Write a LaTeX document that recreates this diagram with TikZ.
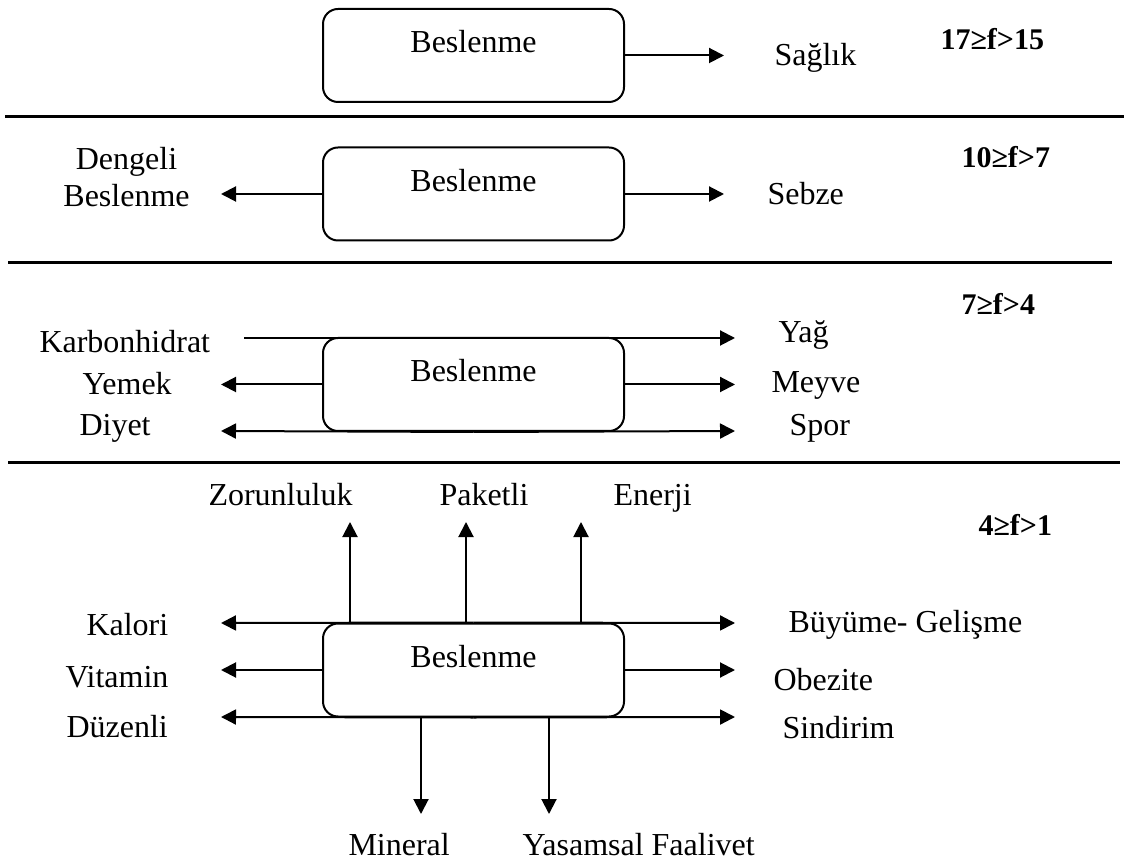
\documentclass[12pt,tikz,border=0pt]{standalone}
\usepackage{fontspec}
\setmainfont{Liberation Serif}
\usetikzlibrary{arrows.meta}

\begin{document}
\begin{tikzpicture}[x=0.4pt, y=-0.4pt, font=\fontsize{12.8pt}{14.8pt}\selectfont,
  box/.style={draw, line width=0.8pt, rounded corners=6pt, minimum width=120.4pt,
    inner xsep=0pt, inner ysep=0pt, text height=17.6pt, text depth=19.6pt},
  arr/.style={line width=0.8pt, -{Triangle[length=6pt, width=6pt]}},
  sep/.style={line width=1.2pt},
  lbl/.style={anchor=base west, inner sep=0pt},
  lvl/.style={anchor=base west, inner sep=0pt, font=\fontsize{12pt}{14.4pt}\selectfont\bfseries}]

\useasboundingbox (0,0) rectangle (1124,864);

\node[box] (b1) at (473.5,55.5) {Beslenme};
\coordinate (t1) at (724,55.5);
\draw[arr] (b1.east) -- (t1);
\node[lbl] (saglik) at (774,66) {Sağlık};
\node[lvl] (f1) at (940,50) {17≥f>15};

\draw[sep] (5,117) -- (1124,117);

\node[box] (b2) at (473.5,194) {Beslenme};
\coordinate (t2l) at (221,194);
\coordinate (t2r) at (724,194);
\draw[arr] (b2.west) -- (t2l);
\draw[arr] (b2.east) -- (t2r);
\node[anchor=base, align=center, inner sep=0pt] (dengeli) at (126.5,207) {Dengeli\\Beslenme};
\node[lbl] (sebze) at (767,205) {Sebze};
\node[lvl] (f2) at (961,168) {10≥f>7};

\draw[sep] (8,263) -- (1112,263);

\node[box] (b3) at (473.5,384.5) {Beslenme};
\coordinate (k3) at (244,338);
\coordinate (y3) at (735,338);
\coordinate (t3l) at (221,384.5);
\coordinate (t3r) at (735,384.5);
\coordinate (d3l) at (221,431);
\coordinate (d3r) at (735,431);
\draw[arr] (k3) -- (y3);
\draw[arr] (b3.west) -- (t3l);
\draw[arr] (b3.east) -- (t3r);
\draw[arr] (b3.south) -- (d3l);
\draw[arr] (b3.south) -- (d3r);
\node[lbl] (karb) at (39,353) {Karbonhidrat};
\node[lbl] (yemek) at (82,395) {Yemek};
\node[lbl] (diyet) at (79,435) {Diyet};
\node[lbl] (yag) at (778,343) {Yağ};
\node[lbl] (meyve) at (771,393) {Meyve};
\node[lbl] (spor) at (789,435) {Spor};
\node[lvl] (f3) at (961,315) {7≥f>4};

\draw[sep] (8,463) -- (1120,463);

\node[box] (b4) at (473.5,670) {Beslenme};
\coordinate (u1) at (350,522);
\coordinate (u2) at (466,522);
\coordinate (u3) at (581,522);
\draw[arr] (b4.north -| u1) -- (u1);
\draw[arr] (b4.north -| u2) -- (u2);
\draw[arr] (b4.north -| u3) -- (u3);
\coordinate (l1) at (221,623);
\coordinate (l2) at (221,670);
\coordinate (l3) at (221,717);
\draw[arr] (b4.north) -- (l1);
\draw[arr] (b4.west) -- (l2);
\draw[arr] (b4.south) -- (l3);
\coordinate (r1) at (735,623);
\coordinate (r2) at (735,670);
\coordinate (r3) at (735,717);
\draw[arr] (b4.north) -- (r1);
\draw[arr] (b4.east) -- (r2);
\draw[arr] (b4.south) -- (r3);
\coordinate (d1) at (421,814);
\coordinate (d2) at (549,814);
\draw[arr] (b4.south -| d1) -- (d1);
\draw[arr] (b4.south -| d2) -- (d2);
\node[lbl] (zorun) at (208,505) {Zorunluluk};
\node[lbl] (paketli) at (439,505) {Paketli};
\node[lbl] (enerji) at (613,505) {Enerji};
\node[lvl] (f4) at (978,535) {4≥f>1};
\node[lbl] (kalori) at (86,635) {Kalori};
\node[lbl] (vitamin) at (65,687) {Vitamin};
\node[lbl] (duzenli) at (66,737) {Düzenli};
\node[lbl] (buyume) at (788,632) {Büyüme- Gelişme};
\node[lbl] (obezite) at (773,690) {Obezite};
\node[lbl] (sindirim) at (782,738) {Sindirim};
\node[lbl] (mineral) at (348,855) {Mineral};
\node[lbl] (yasamsal) at (522,855) {Yasamsal Faalivet};

\end{tikzpicture}
\end{document}
